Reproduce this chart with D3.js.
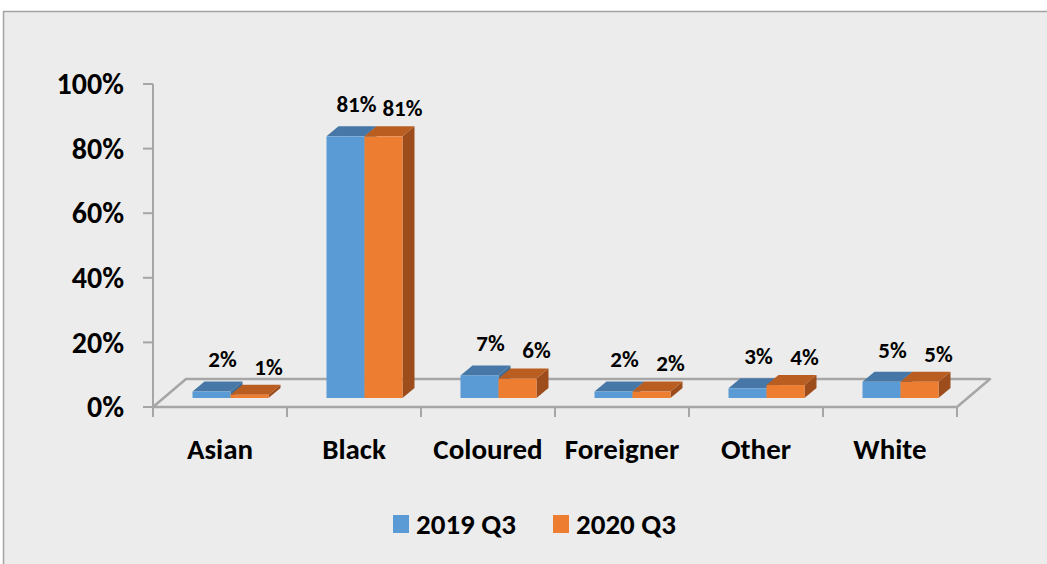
<!DOCTYPE html>
<meta charset="utf-8">
<style>
body { margin: 0; background: #fff; }
svg text { font-family: Carlito, "Liberation Sans", Arial, sans-serif; font-weight: bold; fill: #000; }
</style>
<svg width="1047" height="564"></svg>
<script src="https://d3js.org/d3.v7.min.js"></script>
<script>

const categories = ["Asian", "Black", "Coloured", "Foreigner", "Other", "White"];
const seriesNames = ["2019 Q3", "2020 Q3"];
const values2019 = [2, 81, 7, 2, 3, 5];
const values2020 = [1, 81, 6, 2, 4, 5];
const yTicks = [0, 20, 40, 60, 80, 100];

const colors = [
  {front: "#5b9bd5", top: "#4677a6", side: "#3f6b95"},
  {front: "#ed7d31", top: "#b95d20", side: "#9c4d1b"}
];

const svg = d3.select("svg");

// panel
svg.append("rect")
    .attr("x", 3.5).attr("y", 11.5)
    .attr("width", 1050).attr("height", 560)
    .attr("fill", "#ececec")
    .attr("stroke", "#a3a3a3").attr("stroke-width", 1.5);

const plot = {left: 153, right: 957, top: 84, bottom: 407};
const floorDepth = {dx: 33, dy: -28};
const barDepth = {dx: 12, dy: -10};
const barShift = {dx: 10.5, dy: -9};

const xScale = d3.scaleBand()
    .domain(categories)
    .range([plot.left, plot.right]);

const yScale = d3.scaleLinear()
    .domain([0, 100])
    .range([plot.bottom, plot.top]);

const barW = 38;

// floor
const floor = [
  [plot.left, plot.bottom],
  [plot.right, plot.bottom],
  [plot.right + floorDepth.dx, plot.bottom + floorDepth.dy],
  [plot.left + floorDepth.dx, plot.bottom + floorDepth.dy]
];
svg.append("polygon")
    .attr("points", floor.map(p => p.join(",")).join(" "))
    .attr("fill", "#ececec")
    .attr("stroke", "#a6a6a6").attr("stroke-width", 2.5)
    .attr("stroke-linejoin", "round");

// y axis
const yAxis = svg.append("g");
yAxis.append("line")
    .attr("x1", plot.left).attr("x2", plot.left)
    .attr("y1", plot.top).attr("y2", plot.bottom + 3)
    .attr("stroke", "#a6a6a6").attr("stroke-width", 2);
yAxis.selectAll(".tick")
    .data(yTicks)
  .join("line")
    .attr("x1", plot.left - 10).attr("x2", plot.left)
    .attr("y1", d => yScale(d)).attr("y2", d => yScale(d))
    .attr("stroke", "#a6a6a6").attr("stroke-width", 2);
yAxis.selectAll("text")
    .data(yTicks)
  .join("text")
    .attr("x", 124)
    .attr("y", d => yScale(d))
    .attr("dy", "0.34em")
    .attr("text-anchor", "end")
    .style("font-size", "30px")
    .text(d => d + "%");

// x axis ticks and labels
const xTicks = categories.map(c => xScale(c)).concat([plot.right]);
svg.append("g").selectAll("line")
    .data(xTicks)
  .join("line")
    .attr("x1", d => d).attr("x2", d => d)
    .attr("y1", plot.bottom).attr("y2", plot.bottom + 10)
    .attr("stroke", "#a6a6a6").attr("stroke-width", 2);
svg.append("g").selectAll("text")
    .data(categories)
  .join("text")
    .attr("x", d => xScale(d) + xScale.bandwidth() / 2)
    .attr("y", 449)
    .attr("dy", "0.34em")
    .attr("text-anchor", "middle")
    .style("font-size", "29px")
    .text(d => d);

// bars
const seriesValues = [values2019, values2020];
const bars = [];
categories.forEach((c, i) => {
  seriesValues.forEach((vals, s) => {
    const x0 = xScale(c) + xScale.bandwidth() / 2 - barW + s * barW + barShift.dx;
    bars.push({c, s, v: vals[i], x0, x1: x0 + barW,
      base: yScale(0) + barShift.dy, top: yScale(vals[i]) + barShift.dy});
  });
});

const pts = a => a.map(p => p.join(",")).join(" ");
const barG = svg.append("g");
bars.forEach(b => {
  const g = barG.append("g");
  const col = colors[b.s];
  g.append("polygon")
      .attr("points", pts([[b.x1, b.top], [b.x1 + barDepth.dx, b.top + barDepth.dy],
        [b.x1 + barDepth.dx, b.base + barDepth.dy], [b.x1, b.base]]))
      .attr("fill", col.side);
  g.append("polygon")
      .attr("points", pts([[b.x0, b.top], [b.x1, b.top],
        [b.x1 + barDepth.dx, b.top + barDepth.dy], [b.x0 + barDepth.dx, b.top + barDepth.dy]]))
      .attr("fill", col.top);
  g.append("rect")
      .attr("x", b.x0).attr("y", b.top)
      .attr("width", barW).attr("height", b.base - b.top)
      .attr("fill", col.front);
});

// value labels
const labelOff = [{dx: 11, dy: -32}, {dx: 19, dy: -28}];
svg.append("g").selectAll("text")
    .data(bars)
  .join("text")
    .attr("x", d => (d.x0 + d.x1) / 2 + labelOff[d.s].dx)
    .attr("y", d => d.top + labelOff[d.s].dy)
    .attr("dy", "0.34em")
    .attr("text-anchor", "middle")
    .style("font-size", "23px")
    .text(d => d.v + "%");

// legend
const legendX = [393, 553];
const legend = svg.append("g").selectAll("g")
    .data(seriesNames)
  .join("g")
    .attr("transform", (d, i) => "translate(" + legendX[i] + ",515)");
legend.append("rect")
    .attr("width", 16).attr("height", 18)
    .attr("fill", (d, i) => colors[i].front);
legend.append("text")
    .attr("x", 23).attr("y", 9)
    .attr("dy", "0.34em")
    .style("font-size", "29px")
    .text(d => d);

</script>
